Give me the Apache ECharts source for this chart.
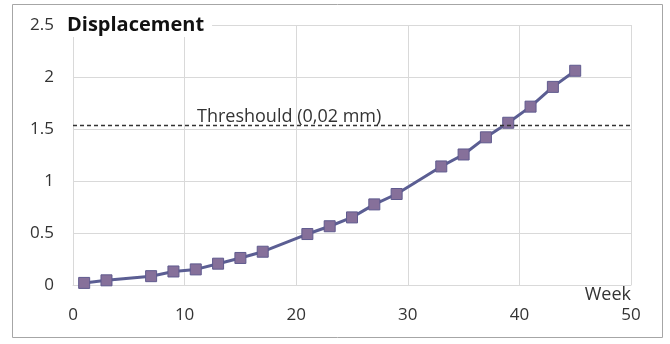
<!DOCTYPE html>
<html><head><meta charset="utf-8">
<script src="https://cdn.jsdelivr.net/npm/echarts@6/dist/echarts.min.js"></script>
<style>html,body{margin:0;padding:0;background:#fff}#c{width:670px;height:344px}</style>
</head><body><div id="c"></div>
<script>
const weeks = [1, 3, 7, 9, 11, 13, 15, 17, 21, 23, 25, 27, 29, 33, 35, 37, 39, 41, 43, 45];
const displacement = [0.02, 0.045, 0.085, 0.13, 0.15, 0.205, 0.26, 0.32, 0.49, 0.565, 0.65, 0.775, 0.875, 1.14, 1.255, 1.42, 1.56, 1.715, 1.905, 2.06];
const threshold = 1.54;
const thresholdLabel = 'Threshould (0,02 mm)';
const titleText = 'Displacement';
const xName = 'Week';

const chart = echarts.init(document.getElementById('c'));
const font = '"Open Sans", sans-serif';
chart.setOption({
  animation: false,
  backgroundColor: '#fff',
  grid: {left: 73, right: 39, top: 25, bottom: 59, containLabel: false, outerBoundsMode: 'none'},
  title: {
    text: titleText, left: 64, top: 13, padding: [2, 8, 2, 3],
    backgroundColor: '#fff',
    textStyle: {fontFamily: font, fontWeight: 'bold', fontSize: 20, color: '#111'}
  },
  graphic: [{
    type: 'rect', shape: {x: 12.5, y: 4.5, width: 650, height: 333},
    style: {fill: 'none', stroke: '#a6a6a6', lineWidth: 1}, silent: true, z: -1
  }],
  xAxis: {
    type: 'value', min: 0, max: 50, interval: 10,
    name: xName, nameLocation: 'end', nameGap: 0, nameMoveOverlap: false,
    nameTextStyle: {fontFamily: font, fontSize: 18, color: '#333', align: 'right', verticalAlign: 'top', padding: [1, 0, 0, 0]},
    axisLine: {lineStyle: {color: '#d9d9d9'}},
    axisTick: {show: false},
    axisLabel: {fontFamily: font, fontSize: 17, color: '#333', margin: 22},
    splitLine: {show: true, lineStyle: {color: '#d9d9d9'}}
  },
  yAxis: {
    type: 'value', min: 0, max: 2.5, interval: 0.5,
    axisLine: {show: true, lineStyle: {color: '#d9d9d9'}},
    axisTick: {show: false},
    axisLabel: {fontFamily: font, fontSize: 17, color: '#333', margin: 19},
    splitLine: {show: true, lineStyle: {color: '#d9d9d9'}}
  },
  series: [{
    type: 'line',
    data: weeks.map((w, i) => [w, displacement[i]]),
    symbol: 'rect', symbolSize: 11,
    lineStyle: {color: '#5b5e93', width: 3},
    itemStyle: {color: '#86709a', borderColor: '#5f5a8e', borderWidth: 1},
    markLine: {
      silent: true, symbol: 'none',
      lineStyle: {color: '#333', type: [4, 3], width: 1.3},
      label: {
        show: true, position: 'insideStartTop', formatter: thresholdLabel, distance: -1,
        fontFamily: font, fontSize: 18, color: '#333', padding: [0, 0, 0, 125]
      },
      data: [{yAxis: threshold}]
    }
  }]
});
</script></body></html>
